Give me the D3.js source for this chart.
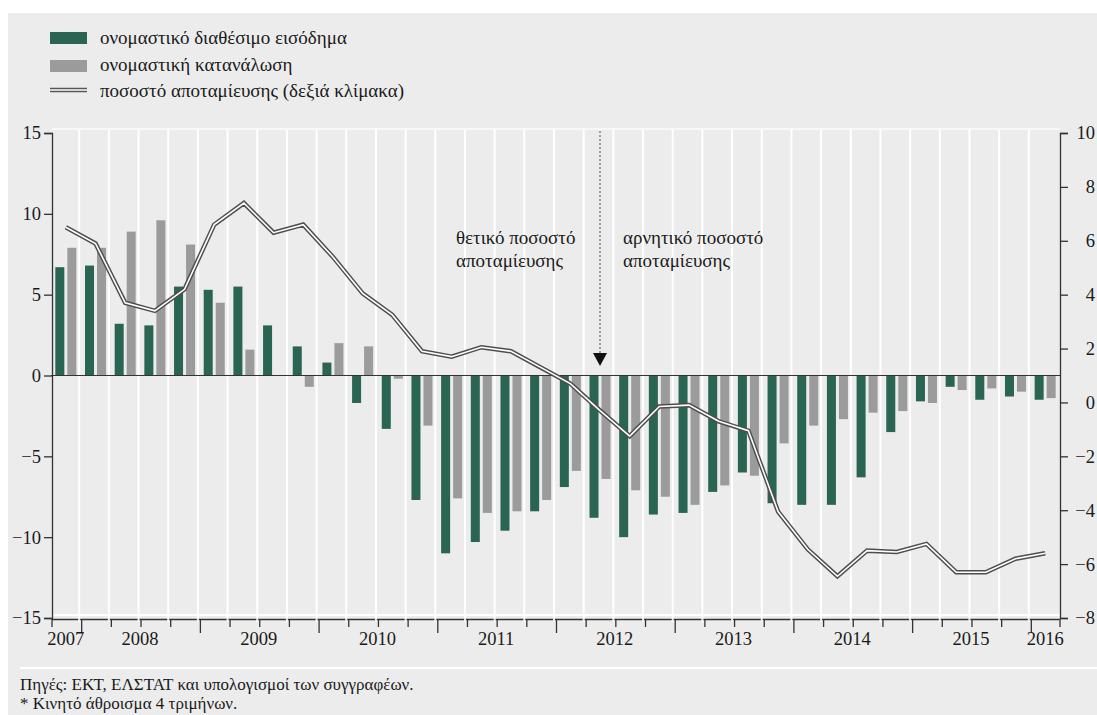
<!DOCTYPE html>
<html>
    <head>
        <meta charset="UTF-8">
        <script src="https://d3js.org/d3.v7.min.js"></script>
        <style>
            body { margin: 0; background: #fff; }
            text { font-family: "Liberation Serif", "DejaVu Serif", "Noto Serif", "FreeSerif", serif; fill: #1a1a1a; }
        </style>
    </head>

    <body>

        <svg id="canvas"></svg>

        <script>

            width = 1097;
            height = 715;

            // quarters, 2007Q4 .. 2016Q1
            quarters = ["2007Q4",
                "2008Q1", "2008Q2", "2008Q3", "2008Q4",
                "2009Q1", "2009Q2", "2009Q3", "2009Q4",
                "2010Q1", "2010Q2", "2010Q3", "2010Q4",
                "2011Q1", "2011Q2", "2011Q3", "2011Q4",
                "2012Q1", "2012Q2", "2012Q3", "2012Q4",
                "2013Q1", "2013Q2", "2013Q3", "2013Q4",
                "2014Q1", "2014Q2", "2014Q3", "2014Q4",
                "2015Q1", "2015Q2", "2015Q3", "2015Q4",
                "2016Q1"];
            years = ["2007", "2008", "2009", "2010", "2011", "2012", "2013", "2014", "2015", "2016"];

            // ονομαστικό διαθέσιμο εισόδημα (left scale)
            income = [6.7, 6.8, 3.2, 3.1, 5.5, 5.3, 5.5, 3.1, 1.8, 0.8, -1.7, -3.3,
                -7.7, -11.0, -10.3, -9.6, -8.4, -6.9, -8.8, -10.0, -8.6, -8.5, -7.2, -6.0,
                -7.9, -8.0, -8.0, -6.3, -3.5, -1.6, -0.7, -1.5, -1.3, -1.5];
            // ονομαστική κατανάλωση (left scale)
            consumption = [7.9, 7.9, 8.9, 9.6, 8.1, 4.5, 1.6, 0, -0.7, 2.0, 1.8, -0.2,
                -3.1, -7.6, -8.5, -8.4, -7.7, -5.9, -6.4, -7.1, -7.5, -8.0, -6.8, -6.2,
                -4.2, -3.1, -2.7, -2.3, -2.2, -1.7, -0.9, -0.8, -1.0, -1.4];
            // ποσοστό αποταμίευσης (right scale)
            saving = [6.5, 5.9, 3.7, 3.4, 4.2, 6.6, 7.4, 6.3, 6.6, 5.4, 4.05, 3.25,
                1.9, 1.7, 2.05, 1.9, 1.3, 0.7, -0.3, -1.25, -0.15, -0.1, -0.7, -1.05,
                -4.05, -5.45, -6.45, -5.5, -5.55, -5.25, -6.3, -6.3, -5.8, -5.6];

            leftTicks = [-15, -10, -5, 0, 5, 10, 15];
            rightTicks = [-8, -6, -4, -2, 0, 2, 4, 6, 8, 10];

            legendLabels = ["ονομαστικό διαθέσιμο εισόδημα", "ονομαστική κατανάλωση", "ποσοστό αποταμίευσης (δεξιά κλίμακα)"];
            noteLines = ["Πηγές: ΕΚΤ, ΕΛΣΤΑΤ και υπολογισμοί των συγγραφέων.", "* Κινητό άθροισμα 4 τριμήνων."];

            green = "#2a6453";
            grey = "#9b9b9b";

            canvas = d3.select("#canvas")
                .attr("width", width)
                .attr("height", height);

            canvas.append("rect")
                .attr("x", 8).attr("y", 13)
                .attr("width", width - 8).attr("height", height - 13)
                .attr("fill", "#ececec");

            // separator above the notes
            canvas.append("line")
                .attr("x1", 20).attr("x2", width)
                .attr("y1", 668).attr("y2", 668)
                .attr("stroke", "#fff").attr("stroke-width", 2);

            plotL = 51; plotR = 1060; plotT = 133; plotB = 618;

            x = d3.scaleBand().domain(quarters).range([plotL, plotR]);
            xs = d3.scaleBand().domain(["inc", "cons"]).range([0, x.bandwidth()])
                .paddingInner(0.25).paddingOuter(0.36);
            yl = d3.scaleLinear().domain([-15, 15]).range([plotB, plotT]);
            yr = d3.scaleLinear().domain([-8, 10]).range([plotB, plotT]);

            // white grid
            canvas.append("g").selectAll("line")
                .data(quarters.slice(1))
                .enter().append("line")
                    .attr("x1", (d) => x(d) - 1.5).attr("x2", (d) => x(d) - 1.5)
                    .attr("y1", plotT - 5).attr("y2", plotB + 4)
                    .attr("stroke", "#fff").attr("stroke-width", 2);
            canvas.append("line")
                .attr("x1", plotL + 1).attr("x2", plotR)
                .attr("y1", plotT - 4).attr("y2", plotT - 4)
                .attr("stroke", "#f8f8f8").attr("stroke-width", 2);
            canvas.append("line")
                .attr("x1", plotL + 1).attr("x2", plotR)
                .attr("y1", plotB - 3).attr("y2", plotB - 3)
                .attr("stroke", "#fff").attr("stroke-width", 2);

            // bars
            canvas.append("g").selectAll("rect")
                .data(income)
                .enter().append("rect")
                    .attr("x", (d, i) => x(quarters[i]) + xs("inc"))
                    .attr("width", xs.bandwidth())
                    .attr("y", (d) => yl(Math.max(0, d)))
                    .attr("height", (d) => Math.abs(yl(d) - yl(0)))
                    .attr("fill", green);
            canvas.append("g").selectAll("rect")
                .data(consumption)
                .enter().append("rect")
                    .attr("x", (d, i) => x(quarters[i]) + xs("cons"))
                    .attr("width", xs.bandwidth())
                    .attr("y", (d) => yl(Math.max(0, d)))
                    .attr("height", (d) => Math.abs(yl(d) - yl(0)))
                    .attr("fill", grey);

            // zero line
            canvas.append("line")
                .attr("x1", plotL).attr("x2", plotR)
                .attr("y1", yl(0)).attr("y2", yl(0))
                .attr("stroke", "#333").attr("stroke-width", 1.2);

            // saving rate, double line
            line = d3.line()
                .x((d, i) => x(quarters[i]) + x.bandwidth() / 2)
                .y((d) => yr(d));
            canvas.append("path").datum(saving)
                .attr("d", line).attr("fill", "none")
                .attr("stroke", "#4d4d4d").attr("stroke-width", 4.5);
            canvas.append("path").datum(saving)
                .attr("d", line).attr("fill", "none")
                .attr("stroke", "#fff").attr("stroke-width", 1.6);

            // axes
            leftAxis = canvas.append("g")
                .attr("transform", "translate(" + (plotL + 1) + ",0)")
                .call(d3.axisLeft(yl).tickValues(leftTicks).tickSize(8).tickPadding(3));
            rightAxis = canvas.append("g")
                .attr("transform", "translate(" + plotR + ",0)")
                .call(d3.axisRight(yr).tickValues(rightTicks).tickSize(8).tickPadding(27));
            [leftAxis, rightAxis].forEach(function(a) {
                a.attr("font-family", null);
                a.select(".domain").attr("stroke", "#333").attr("stroke-width", 1.3);
                a.selectAll(".tick line").attr("stroke", "#333").attr("stroke-width", 1.3);
                a.selectAll("text").attr("font-size", 18.5).attr("fill", "#1a1a1a");
            });
            rightAxis.selectAll("text").attr("text-anchor", "end");

            // bottom axis: line, quarter ticks, year labels
            canvas.append("line")
                .attr("x1", plotL + 1).attr("x2", plotR)
                .attr("y1", plotB + 1.5).attr("y2", plotB + 1.5)
                .attr("stroke", "#333").attr("stroke-width", 1.3);
            canvas.append("g").selectAll("line")
                .data(quarters.concat(["end"]))
                .enter().append("line")
                    .attr("x1", (d) => d == "end" ? plotR : x(d) + 1)
                    .attr("x2", (d) => d == "end" ? plotR : x(d) + 1)
                    .attr("y1", plotB + 1)
                    .attr("y2", (d) => d.slice(4) == "Q1" ? plotB + 15 : plotB + 9)
                    .attr("stroke", "#333").attr("stroke-width", 1.3);
            // re-cut the axis line with the white grid
            canvas.append("g").selectAll("line")
                .data(quarters.slice(1))
                .enter().append("line")
                    .attr("x1", (d) => x(d) - 1.5).attr("x2", (d) => x(d) - 1.5)
                    .attr("y1", plotB).attr("y2", plotB + 3)
                    .attr("stroke", "#ececec").attr("stroke-width", 2);

            canvas.append("g").selectAll("text")
                .data(years)
                .enter().append("text")
                    .attr("x", function(yr_) {
                        qs = quarters.filter((q) => q.slice(0, 4) == yr_);
                        return d3.mean(qs, (q) => x(q) + x.bandwidth() / 2);
                    })
                    .attr("y", 645)
                    .attr("text-anchor", "middle")
                    .attr("font-size", 18.5)
                    .text((d) => d);

            // annotation
            arrowX = x("2012Q2") + x.bandwidth() / 2;
            canvas.append("line")
                .attr("x1", arrowX).attr("x2", arrowX)
                .attr("y1", plotT - 2).attr("y2", 354)
                .attr("stroke", "#555").attr("stroke-width", 1)
                .attr("stroke-dasharray", "2,2");
            canvas.append("path")
                .attr("d", "M" + (arrowX - 7) + ",353 L" + (arrowX + 7) + ",353 L" + arrowX + ",366 Z")
                .attr("fill", "#111");
            annL = canvas.append("text").attr("font-size", 19);
            annL.append("tspan").attr("x", 456).attr("y", 244).text("θετικό ποσοστό");
            annL.append("tspan").attr("x", 456).attr("y", 267).text("αποταμίευσης");
            annR = canvas.append("text").attr("font-size", 19);
            annR.append("tspan").attr("x", 623).attr("y", 244).text("αρνητικό ποσοστό");
            annR.append("tspan").attr("x", 623).attr("y", 267).text("αποταμίευσης");

            // legend
            legend = canvas.append("g");
            legend.append("rect").attr("x", 50).attr("y", 32).attr("width", 37).attr("height", 12).attr("fill", green);
            legend.append("rect").attr("x", 50).attr("y", 60).attr("width", 37).attr("height", 12).attr("fill", grey);
            legend.append("line").attr("x1", 50).attr("x2", 87).attr("y1", 90).attr("y2", 90)
                .attr("stroke", "#555").attr("stroke-width", 4.5);
            legend.append("line").attr("x1", 50).attr("x2", 87).attr("y1", 90).attr("y2", 90)
                .attr("stroke", "#fff").attr("stroke-width", 1.6);
            legend.selectAll("text")
                .data(legendLabels)
                .enter().append("text")
                    .attr("x", 100)
                    .attr("y", (d, i) => 44 + i * 26.5)
                    .attr("font-size", 19)
                    .text((d) => d);

            // notes
            canvas.append("g").selectAll("text")
                .data(noteLines)
                .enter().append("text")
                    .attr("x", 20)
                    .attr("y", (d, i) => 690 + i * 19)
                    .attr("font-size", 17)
                    .text((d) => d);

        </script>

    </body>

</html>
